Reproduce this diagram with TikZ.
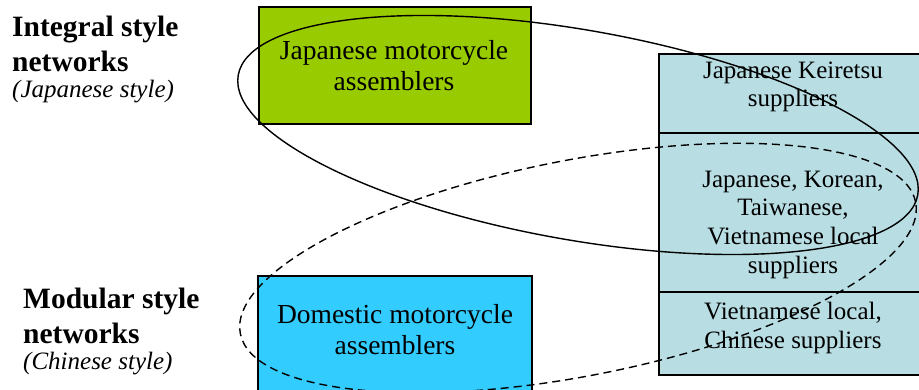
\documentclass[tikz,border=0pt]{standalone}
\usepackage{fontspec}
\setmainfont{Liberation Serif}
\definecolor{jgreen}{HTML}{99CC00}
\definecolor{dblue}{HTML}{33CCFF}
\definecolor{supblue}{RGB}{184,222,228}
\tikzset{
  boxstyle/.style={draw=black, line width=1.1pt, inner sep=0pt, outer sep=0pt},
  boxtext/.style={align=center, inner sep=0pt, font=\fontsize{27.5}{31}\selectfont},
  suptext/.style={align=center, inner sep=0pt, font=\fontsize{25}{28.6}\selectfont},
  titletext/.style={align=left, inner sep=0pt, anchor=west, font=\fontsize{29.5}{35}\selectfont\bfseries},
  subtext/.style={inner sep=0pt, anchor=base west, font=\fontsize{25}{30}\selectfont\itshape},
  ringsolid/.style={draw=black, line width=1.4pt},
  ringdashed/.style={draw=black, line width=1.4pt, dash pattern=on 8pt off 5pt}
}
\begin{document}
\begin{tikzpicture}[x=1pt,y=1pt]
\clip (0,0) rectangle (919,390);
\fill[white] (0,0) rectangle (919,390);
% left labels
\node[titletext] (t1) at (12,346.5) {Integral style\\networks};
\node[subtext] (s1) at (12,292) {(Japanese style)};
\node[titletext] (t2) at (23,74.5) {Modular style\\networks};
\node[subtext] (s2) at (23,20) {(Chinese style)};
% assemblers
\node[boxstyle, fill=jgreen, minimum width=272pt, minimum height=117pt] (jbox) at (395,324.5) {};
\node[boxtext] (jtext) at (394,324) {Japanese motorcycle\\assemblers};
\node[boxstyle, fill=dblue, minimum width=274pt, minimum height=124pt] (dbox) at (395,52) {};
\node[boxtext] (dtext) at (395,60) {Domestic motorcycle\\assemblers};
% suppliers
\node[boxstyle, fill=supblue, minimum width=268pt, minimum height=79pt] (sup1) at (793,296.5) {};
\node[boxstyle, fill=supblue, minimum width=268pt, minimum height=159pt] (sup2) at (793,177.5) {};
\node[boxstyle, fill=supblue, minimum width=268pt, minimum height=83pt] (sup3) at (793,56.5) {};
\node[suptext] (st1) at (793,303) {Japanese Keiretsu\\suppliers};
\node[suptext] (st2) at (793,165.3) {Japanese, Korean,\\Taiwanese,\\Vietnamese local\\suppliers};
\node[suptext] (st3) at (793,62.3) {Vietnamese local,\\Chinese suppliers};
% rings
\draw[ringsolid, rotate around={-10:(578,255)}] (578,255) ellipse [x radius=345pt, y radius=105pt];
\draw[ringdashed, rotate around={11:(578,122)}] (578,122) ellipse [x radius=344pt, y radius=108pt];
\end{tikzpicture}
\end{document}
